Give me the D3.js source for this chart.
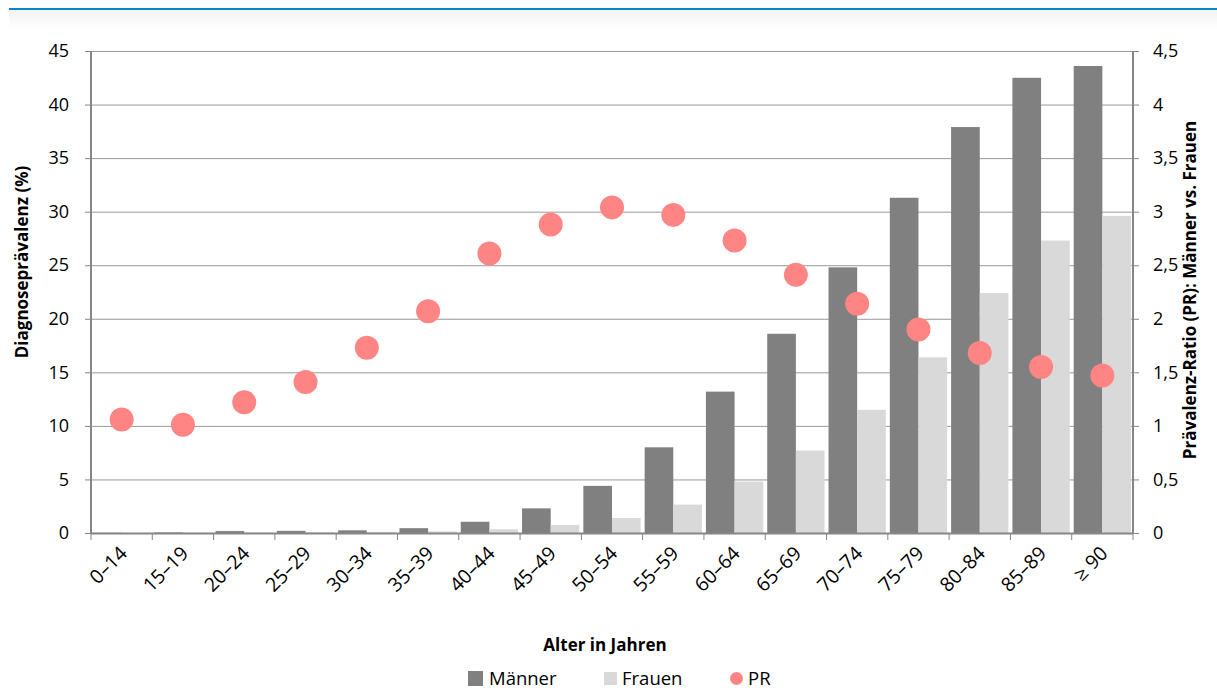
<!DOCTYPE html>
<html><head><meta charset="utf-8">
<script src="https://cdn.jsdelivr.net/npm/d3@7"></script>
<style>
body{margin:0;background:#fff;}
text{font-family:"Open Sans",sans-serif;fill:#000;}
</style></head>
<body><svg id="c" width="1217" height="691"></svg>
<script>
const categories = ["0–14","15–19","20–24","25–29","30–34","35–39","40–44","45–49","50–54","55–59","60–64","65–69","70–74","75–79","80–84","85–89","≥ 90"];
const maenner = [0.02,0.05,0.18,0.2,0.25,0.45,1.05,2.3,4.4,8.0,13.2,18.6,24.8,31.3,37.9,42.5,43.6];
const frauen  = [0.0,0.02,0.05,0.08,0.1,0.15,0.35,0.75,1.4,2.65,4.8,7.7,11.5,16.4,22.4,27.3,29.6];
const pr      = [1.06,1.01,1.22,1.41,1.73,2.07,2.61,2.88,3.04,2.97,2.73,2.41,2.14,1.90,1.68,1.55,1.47];
const leftTicks = [0,5,10,15,20,25,30,35,40,45];
const rightTicks = [0,0.5,1,1.5,2,2.5,3,3.5,4,4.5];
const seriesNames = ["Männer","Frauen","PR"];

const svg = d3.select("#c");
const L=91, R=1133, T=51, B=533;

// header decoration
const defs = svg.append("defs");
const g1 = defs.append("linearGradient").attr("id","hg").attr("x1",0).attr("x2",0).attr("y1",0).attr("y2",1);
g1.append("stop").attr("offset","0").attr("stop-color","#f3f3f3");
g1.append("stop").attr("offset","1").attr("stop-color","#ffffff");
svg.append("rect").attr("x",9).attr("y",10).attr("width",1208).attr("height",20).attr("fill","url(#hg)");
svg.append("rect").attr("x",9).attr("y",8).attr("width",1208).attr("height",2).attr("fill","#0b86c3");

const x0 = d3.scaleBand().domain(categories).range([L,R]).paddingInner(0.065).paddingOuter(0.0325);
const x1 = d3.scaleBand().domain(["m","f"]).range([0,x0.bandwidth()]);
const y = d3.scaleLinear().domain([0,45]).range([B,T]);
const y2 = d3.scaleLinear().domain([0,4.5]).range([B,T]);
const step = (R-L)/categories.length;

// gridlines
svg.append("g").selectAll("line").data(leftTicks.filter(d=>d>0)).join("line")
  .attr("x1",L).attr("x2",R).attr("y1",d=>y(d)+0.5).attr("y2",d=>y(d)+0.5)
  .attr("stroke","#999").attr("stroke-width",1);

// bars
const bars = svg.append("g");
bars.selectAll("rect.m").data(maenner).join("rect").attr("class","m")
  .attr("x",(d,i)=>x0(categories[i])+x1("m")).attr("width",x1.bandwidth())
  .attr("y",d=>y(d)).attr("height",d=>B-y(d)).attr("fill","#808080");
bars.selectAll("rect.f").data(frauen).join("rect").attr("class","f")
  .attr("x",(d,i)=>x0(categories[i])+x1("f")).attr("width",x1.bandwidth())
  .attr("y",d=>y(d)).attr("height",d=>B-y(d)).attr("fill","#d9d9d9");

// axes
const axC="#868686";
const yl = svg.append("g").attr("transform",`translate(${L},0)`)
  .call(d3.axisLeft(y).tickValues(leftTicks).tickSize(6).tickPadding(16).tickFormat(d3.format("d")));
const yr = svg.append("g").attr("transform",`translate(${R},0)`)
  .call(d3.axisRight(y2).tickValues(rightTicks).tickSize(6).tickPadding(14).tickFormat(d=>String(d).replace(".",",")));
[yl,yr].forEach(a=>{
  a.selectAll(".tick line").attr("stroke",axC).attr("stroke-width",1);
  a.selectAll("text").style("font-size","18px").attr("fill","#000");
});
yl.select(".domain").remove(); yr.select(".domain").remove();
svg.append("line").attr("x1",L).attr("x2",L).attr("y1",T).attr("y2",B+1).attr("stroke",axC).attr("stroke-width",2);
svg.append("line").attr("x1",R).attr("x2",R).attr("y1",T).attr("y2",B+1).attr("stroke",axC).attr("stroke-width",2);

// x axis
svg.append("line").attr("x1",L).attr("x2",R).attr("y1",B+0.5).attr("y2",B+0.5).attr("stroke",axC).attr("stroke-width",2);
const bounds = d3.range(categories.length+1).map(i=>L+i*step);
svg.append("g").selectAll("line").data(bounds).join("line")
  .attr("x1",d=>d).attr("x2",d=>d).attr("y1",B).attr("y2",B+7).attr("stroke",axC).attr("stroke-width",1);
svg.append("g").selectAll("text").data(categories).join("text")
  .attr("transform",d=>`translate(${x0(d)+x0.bandwidth()/2-3},${B+12}) rotate(-45)`)
  .attr("text-anchor","end").attr("dy","0.7em").style("font-size","19.5px").text(d=>d);

// PR dots
svg.append("g").selectAll("circle").data(pr).join("circle")
  .attr("cx",(d,i)=>x0(categories[i])+x0.bandwidth()/2).attr("cy",d=>y2(d)).attr("r",12)
  .attr("fill","#ff8585");

// titles
svg.append("text").attr("transform","translate(28,262) rotate(-90)").attr("text-anchor","middle")
  .style("font-size","17px").style("font-weight","bold").text("Diagnoseprävalenz (%)");
svg.append("text").attr("transform","translate(1196,290) rotate(-90)").attr("text-anchor","middle")
  .style("font-size","17px").style("font-weight","bold").text("Prävalenz-Ratio (PR): Männer vs. Frauen");
svg.append("text").attr("x",605).attr("y",651).attr("text-anchor","middle")
  .style("font-size","17px").style("font-weight","bold").text("Alter in Jahren");

// legend
const lg = svg.append("g");
lg.append("rect").attr("x",468).attr("y",671).attr("width",15).attr("height",15).attr("fill","#808080");
lg.append("text").attr("x",489).attr("y",685).style("font-size","18.5px").text(seriesNames[0]);
lg.append("rect").attr("x",604).attr("y",672).attr("width",13).attr("height",13).attr("fill","#d9d9d9");
lg.append("text").attr("x",622).attr("y",685).style("font-size","18.5px").text(seriesNames[1]);
lg.append("circle").attr("cx",736.5).attr("cy",678.5).attr("r",6.5).attr("fill","#ff8585");
lg.append("text").attr("x",748).attr("y",685).style("font-size","18.5px").text(seriesNames[2]);
</script></body></html>
